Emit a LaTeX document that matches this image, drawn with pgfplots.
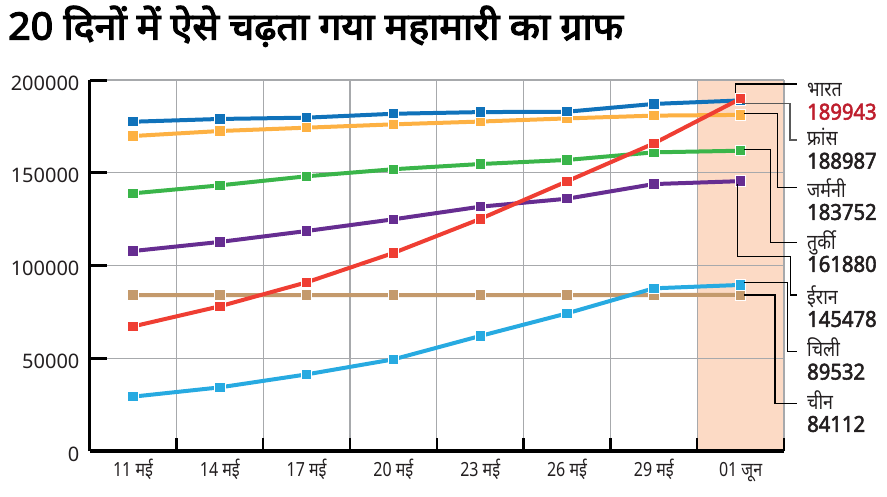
\documentclass[border=0pt]{standalone}
\usepackage{pgfplots}
\pgfplotsset{compat=1.18}
\usepackage{pgfplotstable}
\usepackage{fontspec}
\setmainfont{Noto Sans}[Script=Devanagari]
\newfontfamily\devc{Noto Sans}[Script=Devanagari, FakeStretch=0.82]
\newfontfamily\devn{Noto Sans}[Script=Devanagari, FakeStretch=0.85]
\newfontfamily\devb{Noto Sans}[Script=Devanagari, FakeStretch=1.05, FakeBold=3.5]
\newfontfamily\numb{Noto Sans}[FakeStretch=0.92, FakeBold=2.4]
\definecolor{cBlue}{HTML}{1072BA}
\definecolor{cOrange}{HTML}{FDB143}
\definecolor{cGreen}{HTML}{3AB54A}
\definecolor{cPurple}{HTML}{662D91}
\definecolor{cRed}{HTML}{EF3E33}
\definecolor{cLBlue}{HTML}{27AAE1}
\definecolor{cTan}{HTML}{C49A6C}
\definecolor{cShade}{HTML}{FCDAC5}
\definecolor{cGrid}{HTML}{A7A9AC}
\definecolor{cNum}{HTML}{BE1E2D}
\definecolor{cText}{HTML}{231F20}
\pgfplotstableread{
x india france germany turkey iran chile china
0 67152 177500 169800 138900 107800 29300 84100
1 78003 179000 172500 143200 112700 34300 84100
2 90927 179700 174300 148100 118600 41300 84100
3 106750 181800 176100 151900 124900 49400 84100
4 125101 182700 177600 154700 131700 62000 84100
5 145380 182900 179300 156900 136000 74200 84100
6 165799 187100 180800 161000 143900 87700 84100
7 189943 188987 181200 161880 145478 89532 84112
}\data
\pgfplotsset{
  ser/.style={line width=4pt, mark=square*, mark size=5.2pt,
    mark options={solid, draw=white, line width=1pt, fill=#1}, color=#1},
}
\begin{document}
\begin{tikzpicture}
\node[anchor=base west, inner sep=0pt, text=black] at (8pt,-39.5pt)
  {\fontsize{37.5}{40}\selectfont\devb 20 दिनों में ऐसे चढ़ता गया महामारी का ग्राफ};
\begin{axis}[
  set layers,
  at={(89.6pt,-451pt)}, anchor=south west,
  width=694.4pt, height=371pt, scale only axis,
  xmin=-0.5, xmax=7.5, ymin=0, ymax=200000,
  axis lines*=left,
  axis line style={-, line width=3.5pt, black},
  tick align=inside,
  xtick={0,...,7},
  xticklabels={11 मई,14 मई,17 मई,20 मई,23 मई,26 मई,29 मई,01 जून},
  every major x tick/.append style={draw=none},
  minor xtick={0.5,1.5,...,7.5},
  xminorgrids=true,
  minor tick length=13pt,
  major tick length=17pt,
  every minor tick/.append style={black, line width=2.5pt},
  every major y tick/.append style={black, line width=3pt},
  ytick={0,50000,100000,150000,200000},
  ymajorgrids=true,
  grid style={cGrid, line width=1.1pt},
  minor grid style={cGrid, line width=1.1pt},
  scaled y ticks=false,
  yticklabel style={/pgf/number format/fixed, /pgf/number format/1000 sep={},
    /pgf/number format/assume math mode=true,
    font=\fontsize{20}{22}\selectfont, text=cText, anchor=east, inner sep=0pt, xshift=-10pt, yshift=-3pt},
  xticklabel style={font=\fontsize{19.5}{22}\selectfont\devc, text=cText, anchor=base, yshift=-25pt},
]
\begin{pgfonlayer}{axis background}
\fill[cShade] (axis cs:6.5,0) rectangle (axis cs:7.5,200000);
\end{pgfonlayer}
\addplot[ser=cTan] table[x=x,y=china]{\data};
\addplot[ser=cLBlue] table[x=x,y=chile]{\data};
\addplot[ser=cPurple] table[x=x,y=iran]{\data};
\addplot[ser=cGreen] table[x=x,y=turkey]{\data};
\addplot[ser=cOrange] table[x=x,y=germany]{\data};
\addplot[ser=cBlue] table[x=x,y=france]{\data};
\addplot[ser=cRed] table[x=x,y=india]{\data};
\end{axis}
% leader lines
\draw[black, line width=1.2pt] (735.7pt,-93pt) -- (735.7pt,-84pt) -- (797pt,-84pt);
\draw[black!65, line width=1.2pt] (742pt,-103.7pt) -- (790pt,-103.7pt) -- (790pt,-140pt) -- (797pt,-140pt);
\draw[black, line width=1.2pt] (744pt,-113.3pt) -- (777.3pt,-113.3pt) -- (777.3pt,-187.3pt) -- (797pt,-187.3pt);
\draw[black, line width=1.2pt] (744pt,-149.3pt) -- (770.7pt,-149.3pt) -- (770.7pt,-242.7pt) -- (797pt,-242.7pt);
\draw[black, line width=1.2pt] (737.7pt,-184pt) -- (737.7pt,-256.7pt) -- (790.7pt,-256.7pt) -- (790.7pt,-295pt) -- (797pt,-295pt);
\draw[black, line width=1.2pt] (744pt,-282.7pt) -- (787.3pt,-282.7pt) -- (787.3pt,-351.7pt) -- (797pt,-351.7pt);
\draw[black, line width=1.2pt] (744pt,-295pt) -- (775pt,-295pt) -- (775pt,-403.3pt) -- (797pt,-403.3pt);
% labels
\foreach \nm/\num/\yc/\col in {भारत/189943/111.7/cNum, फ्रांस/188987/160.8/cText, जर्मनी/183752/212/cText, तुर्की/161880/264/cText, ईरान/145478/319/cText, चिली/89532/371.7/cText, चीन/84112/424/cText}{
  \node[anchor=base west, inner sep=0pt, text=cText] at (807pt,-\yc pt+15pt) {\fontsize{21}{23}\selectfont\devn \nm};
  \node[anchor=west, inner sep=0pt, text=\col] at (807pt,-\yc pt) {\fontsize{22}{24}\selectfont\numb \num};
}
\pgfresetboundingbox
\useasboundingbox (0pt,0pt) rectangle (887pt,-496pt);
\end{tikzpicture}
\end{document}
